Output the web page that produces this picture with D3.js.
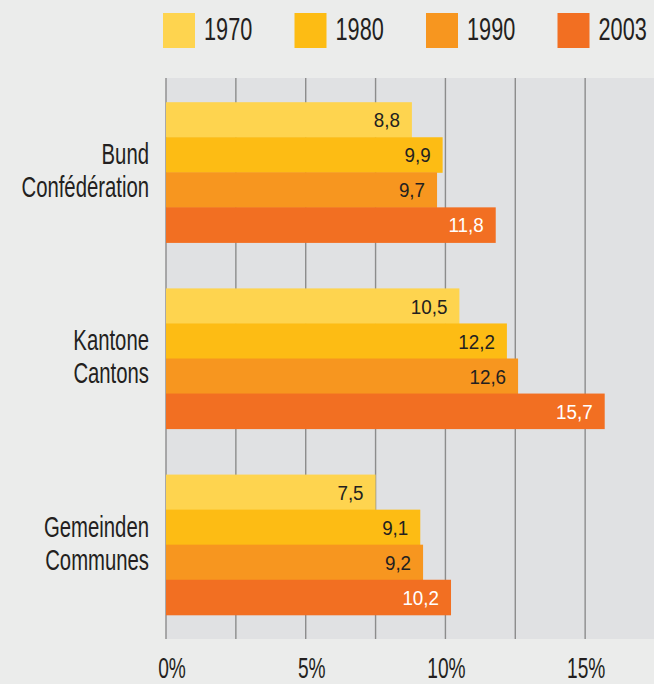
<!DOCTYPE html>
<html>
<head>
<meta charset="utf-8">
<script src="https://cdn.jsdelivr.net/npm/d3@7"></script>
<style>
  html, body { margin: 0; padding: 0; background: #ebeceb; }
  svg { display: block; font-family: "Liberation Sans", Arial, sans-serif; }
</style>
</head>
<body>
<div class="chart"></div>
<script>
// data
var groups = ["Bund|Confédération", "Kantone|Cantons", "Gemeinden|Communes"];
var years = ["1970", "1980", "1990", "2003"];
var colors = ["#fed44f", "#fdbc14", "#f7961f", "#f26f22"];
var v1970 = [8.8, 10.5, 7.5];
var v1980 = [9.9, 12.2, 9.1];
var v1990 = [9.7, 12.6, 9.2];
var v2003 = [11.8, 15.7, 10.2];
var gridTicks = [0, 2.5, 5, 7.5, 10, 12.5, 15, 17.5];
var labelTicks = [0, 5, 10, 15];

var series = [v1970, v1980, v1990, v2003];

var width = 654, height = 684;
var plot = { left: 166, right: 654, top: 78, bottom: 639 };

var svg = d3.select(".chart")
    .append("svg")
    .attr("width", width)
    .attr("height", height);

// squeeze a text horizontally to imitate the condensed face of the original
function narrow(sel, k) {
    sel.each(function () {
        var len = this.getComputedTextLength();
        d3.select(this)
            .attr("textLength", len * k)
            .attr("lengthAdjust", "spacingAndGlyphs");
    });
}

// plot background
svg.append("rect")
    .attr("x", plot.left)
    .attr("y", plot.top)
    .attr("width", plot.right - plot.left)
    .attr("height", plot.bottom - plot.top)
    .style("fill", "#e0e1e3");

var x = d3.scaleLinear()
    .domain([0, 17.5])
    .range([plot.left, 655]);

var y = d3.scaleBand()
    .domain(groups)
    .range([plot.top, plot.bottom])
    .paddingInner(0.247)
    .paddingOuter(0.13);

var yInner = d3.scaleBand()
    .domain(years)
    .range([0, y.bandwidth()]);

// gridlines
svg.selectAll(".grid")
    .data(gridTicks)
    .enter()
    .append("line")
    .attr("class", "grid")
    .attr("x1", function (d) { return x(d); })
    .attr("x2", function (d) { return x(d); })
    .attr("y1", plot.top)
    .attr("y2", plot.bottom)
    .style("stroke", "#8c8c8c")
    .style("stroke-width", 1.4);

// bars
var g = svg.selectAll(".group")
    .data(groups)
    .enter()
    .append("g")
    .attr("class", "group")
    .attr("transform", function (d) { return "translate(0," + y(d) + ")"; });

g.each(function (grp, gi) {
    var sel = d3.select(this);
    years.forEach(function (yr, si) {
        var val = series[si][gi];
        sel.append("rect")
            .attr("x", x(0))
            .attr("y", yInner(yr))
            .attr("width", x(val) - x(0))
            .attr("height", yInner.bandwidth() + 0.5)
            .style("fill", colors[si]);
        sel.append("text")
            .attr("class", "val")
            .attr("x", x(val) - 12)
            .attr("y", yInner(yr) + yInner.bandwidth() / 2)
            .attr("dy", "0.38em")
            .attr("text-anchor", "end")
            .style("font-size", "20px")
            .style("fill", si === 3 ? "#ffffff" : "#231f20")
            .text(String(val).replace(".", ","));
    });

    // category label, two lines
    var lines = grp.split("|");
    var cy = y.bandwidth() / 2;
    lines.forEach(function (ln, li) {
        sel.append("text")
            .attr("class", "cat")
            .attr("x", 149)
            .attr("y", cy - 8 + li * 33)
            .attr("text-anchor", "end")
            .style("font-size", "29px")
            .style("fill", "#231f20")
            .text(ln);
    });
});

narrow(svg.selectAll(".val"), 0.94);
narrow(svg.selectAll(".cat"), 0.7);

// x tick labels
svg.selectAll(".tick-label")
    .data(labelTicks)
    .enter()
    .append("text")
    .attr("class", "tick-label")
    .attr("x", function (d) { return x(d) + (d === 0 ? 6 : d === 5 ? 6 : 1); })
    .attr("y", 678)
    .attr("text-anchor", "middle")
    .style("font-size", "29px")
    .style("fill", "#231f20")
    .text(function (d) { return d + "%"; })
    .call(narrow, 0.66);

// legend
var legend = svg.selectAll(".legend")
    .data(years)
    .enter()
    .append("g")
    .attr("class", "legend")
    .attr("transform", function (d, i) { return "translate(" + (163 + i * 131.5) + ",13)"; });

legend.append("rect")
    .attr("width", 32)
    .attr("height", 35)
    .style("fill", function (d, i) { return colors[i]; });

// scaled with a transform so the box of the text stays tight
legend.append("text")
    .attr("transform", "translate(41,27) scale(0.7,1)")
    .style("font-size", "31px")
    .style("fill", "#231f20")
    .text(function (d) { return d; });
</script>
</body>
</html>
